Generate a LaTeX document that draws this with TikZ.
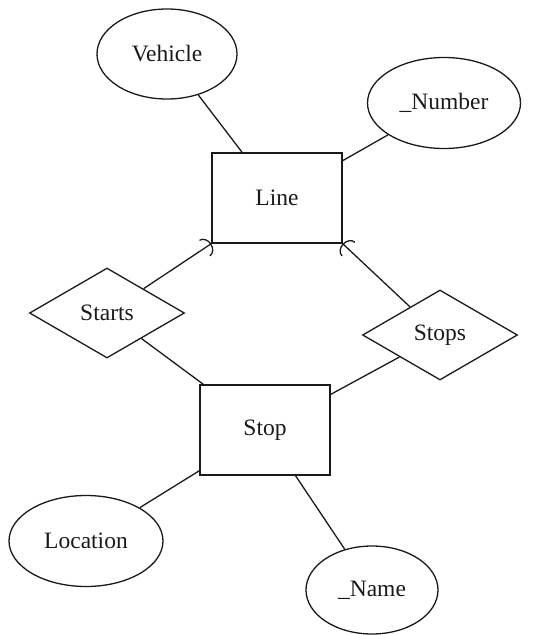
\documentclass[tikz,border=0pt]{standalone}
\usepackage{fontspec}
\setmainfont{Liberation Serif}
\usetikzlibrary{arrows.meta,shapes.geometric}
\definecolor{erInk}{HTML}{1A1A1A}
\tikzset{
  er entity/.style={draw=erInk, line width=1.3pt, rectangle, minimum width=130pt, minimum height=90pt, inner sep=0pt},
  er attr/.style={draw=erInk, line width=1.3pt, ellipse, inner sep=0pt},
  er rel/.style={draw=erInk, line width=1.3pt, diamond, minimum width=155pt, minimum height=90pt, inner sep=0pt},
  er link/.style={draw=erInk, line width=1.3pt},
  er card/.style={-{Arc Barb[width=20pt, length=8pt, line width=1.3pt]}},
}
\begin{document}
\begin{tikzpicture}[x=1pt, y=-1pt, font=\fontsize{23.5}{27}\selectfont, text=erInk]
  \useasboundingbox (0,0) rectangle (540,635);
  % Entities
  \node[er entity] (line) at (277,198) {Line};
  \node[er entity] (stop) at (265,430) {Stop};
  % Attributes
  \node[er attr, minimum width=140pt, minimum height=90pt] (vehicle) at (167,54) {Vehicle};
  \node[er attr, minimum width=153pt, minimum height=91pt] (number) at (444,103) {\_Number};
  \node[er attr, minimum width=154pt, minimum height=91pt] (location) at (86,541) {Location};
  \node[er attr, minimum width=132pt, minimum height=88pt] (name) at (372,590) {\_Name};
  % Relationships
  \node[er rel] (starts) at (107,313) {Starts};
  \node[er rel] (stops) at (440,335) {Stops};
  % Connectors
  \draw[er link] (vehicle) -- (line);
  \draw[er link] (number) -- (line);
  \draw[er link, er card] (starts) -- (line.south west);
  \draw[er link, er card] (stops) -- (line.south east);
  \draw[er link] (starts) -- (stop);
  \draw[er link] (stops) -- (stop);
  \draw[er link] (stop) -- (location);
  \draw[er link] (stop) -- (name);
\end{tikzpicture}
\end{document}
